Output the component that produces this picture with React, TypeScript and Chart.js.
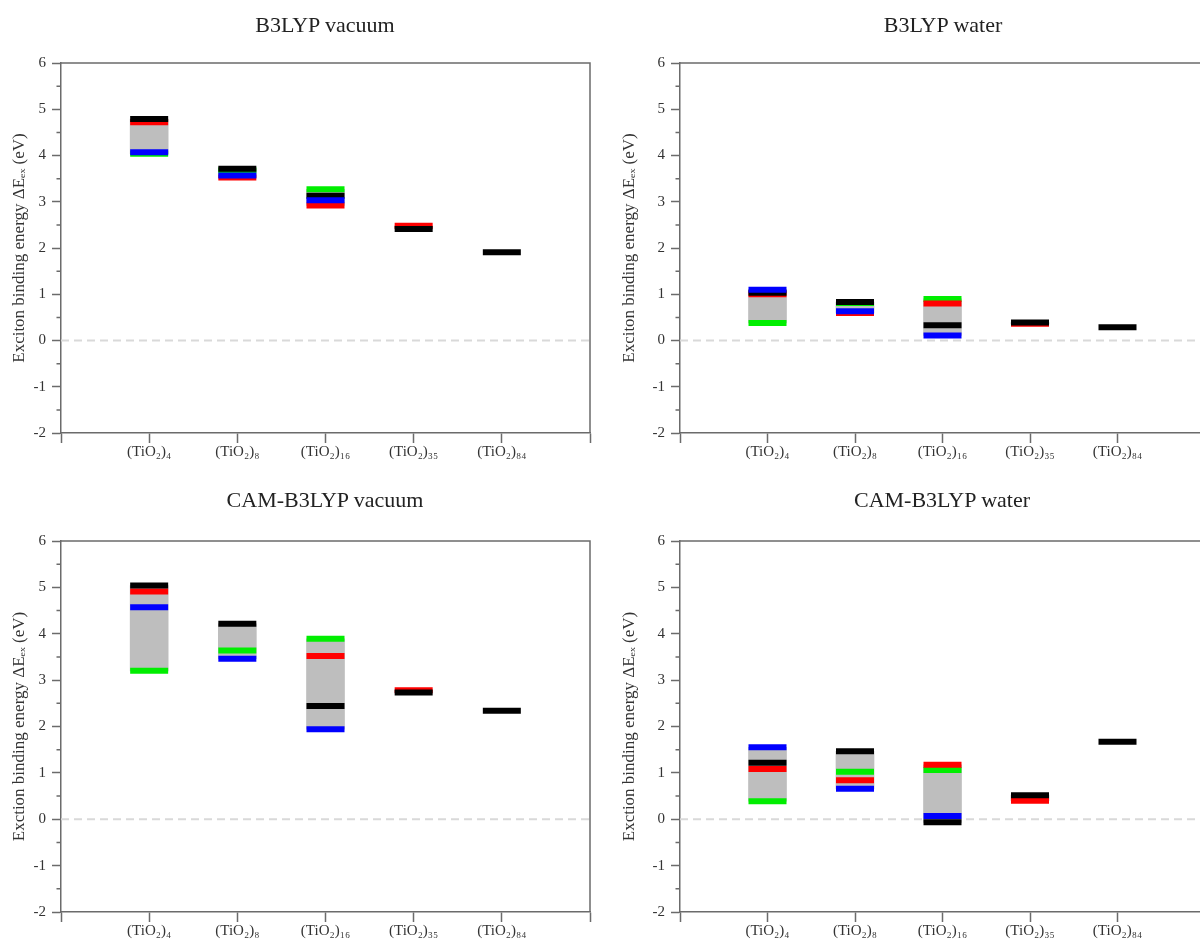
import React, { useEffect, useRef } from "react";
import { Chart, registerables } from "chart.js";

Chart.register(...registerables);

// Cluster sizes along the x axis
const clusterLabels = ["(TiO₂)₄", "(TiO₂)₈", "(TiO₂)₁₆", "(TiO₂)₃₅", "(TiO₂)₈₄"];
const clusterX = [1, 2, 3, 4, 5];

// B3LYP, vacuum (eV)
const b3lypVacuumBlack = [4.79, 3.715, 3.13, 2.41, 1.91];
const b3lypVacuumRed = [4.72, 3.525, 2.92, 2.48, null];
const b3lypVacuumGreen = [4.04, 3.68, 3.27, null, null];
const b3lypVacuumBlue = [4.07, 3.57, 3.03, null, null];

// B3LYP, water (eV)
const b3lypWaterBlack = [1.03, 0.83, 0.33, 0.39, 0.285];
const b3lypWaterRed = [1.0, 0.595, 0.8, 0.36, null];
const b3lypWaterGreen = [0.38, 0.81, 0.9, null, null];
const b3lypWaterBlue = [1.1, 0.63, 0.11, null, null];

// CAM-B3LYP, vacuum (eV)
const camVacuumBlack = [5.04, 4.215, 2.44, 2.735, 2.34];
const camVacuumRed = [4.91, null, 3.52, 2.78, null];
const camVacuumGreen = [3.2, 3.64, 3.89, null, null];
const camVacuumBlue = [4.57, 3.46, 1.94, null, null];

// CAM-B3LYP, water (eV)
const camWaterBlack = [1.22, 1.465, -0.067, 0.52, 1.67];
const camWaterRed = [1.085, 0.84, 1.175, 0.4, null];
const camWaterGreen = [0.39, 1.025, 1.06, null, null];
const camWaterBlue = [1.55, 0.655, 0.07, null, null];

const axisColor = "#6b6b6b";
const textColor = "#333333";
const serif = "'Liberation Serif', 'DejaVu Serif', serif";

type Series = (number | null)[];

type PanelProps = {
  title: string;
  yTitle: string;
  black: Series;
  red: Series;
  green: Series;
  blue: Series;
  left: number;
  top: number;
  width: number;
  height: number;
  axisWidth: number;
  axisHeight: number;
  padTop: number;
  yTitlePad: number;
  titleCenterX: number;
  titleCenterY: number;
};

// Dashed zero reference, outer frame and half-unit minor ticks on the y axis
const framePlugin = {
  id: "frame",
  beforeDatasetsDraw(chart: any) {
    const { ctx, chartArea, scales } = chart;
    const y0 = scales.y.getPixelForValue(0);
    ctx.save();
    ctx.strokeStyle = "#d9d9d9";
    ctx.lineWidth = 2;
    ctx.setLineDash([8, 5]);
    ctx.beginPath();
    ctx.moveTo(chartArea.left, y0);
    ctx.lineTo(chartArea.right, y0);
    ctx.stroke();
    ctx.restore();
  },
  afterDraw(chart: any) {
    const { ctx, chartArea, scales } = chart;
    ctx.save();
    ctx.strokeStyle = axisColor;
    ctx.lineWidth = 1.5;
    ctx.beginPath();
    ctx.moveTo(chartArea.left, chartArea.top);
    ctx.lineTo(chartArea.right, chartArea.top);
    ctx.lineTo(chartArea.right, chartArea.bottom);
    for (let v = -1.5; v < 6; v += 1) {
      const y = scales.y.getPixelForValue(v);
      ctx.moveTo(chartArea.left - 4.5, y);
      ctx.lineTo(chartArea.left, y);
    }
    ctx.stroke();
    ctx.restore();
  },
};

function Panel(p: PanelProps) {
  const ref = useRef<HTMLCanvasElement>(null);

  useEffect(() => {
    const canvas = ref.current;
    if (!canvas) return;

    // First dataset is painted last, so it sits on top
    const marks = [
      { label: "blue", values: p.blue, color: "#0000ff" },
      { label: "black", values: p.black, color: "#000000" },
      { label: "red", values: p.red, color: "#ff0000" },
      { label: "green", values: p.green, color: "#00ee00" },
    ];

    const markSets = marks.map((m) => ({
      type: "scatter",
      label: m.label,
      data: m.values
        .map((v, i) => (v == null ? null : { x: clusterX[i], y: v }))
        .filter((d) => d !== null),
      showLine: false,
      pointStyle: "line",
      pointRadius: 19,
      pointHoverRadius: 19,
      pointBorderWidth: 6,
      pointHoverBorderWidth: 6,
      pointBorderColor: m.color,
      pointBackgroundColor: m.color,
      borderColor: m.color,
    }));

    // Grey span from the lowest to the highest value of each cluster
    const spans: { x: number; y: [number, number] }[] = [];
    clusterX.forEach((x, i) => {
      const vals = [p.black[i], p.red[i], p.green[i], p.blue[i]].filter(
        (v) => v != null
      ) as number[];
      if (vals.length > 1) spans.push({ x, y: [Math.min(...vals), Math.max(...vals)] });
    });

    const chart = new Chart(canvas, {
      type: "scatter",
      data: {
        datasets: [
          ...markSets,
          {
            type: "bar",
            label: "span",
            data: spans,
            backgroundColor: "#bebebe",
            borderWidth: 0,
            barThickness: 38,
          },
        ] as any,
      },
      options: {
        animation: false,
        responsive: false,
        maintainAspectRatio: false,
        events: [],
        layout: {
          autoPadding: false,
          padding: { top: p.padTop, right: 10, left: 0, bottom: 0 },
        },
        plugins: {
          legend: { display: false },
          tooltip: { enabled: false },
          title: { display: false },
        },
        scales: {
          x: {
            type: "linear",
            min: 0,
            max: 6,
            offset: false,
            afterFit: (s: any) => {
              s.height = p.axisHeight;
              s.paddingLeft = 0;
              s.paddingRight = 0;
            },
            ticks: {
              stepSize: 1,
              autoSkip: false,
              maxRotation: 0,
              padding: 0,
              color: textColor,
              font: { family: serif, size: 15 },
              callback: (v: any) => {
                const i = clusterX.indexOf(Number(v));
                return i >= 0 ? clusterLabels[i] : "";
              },
            },
            grid: {
              drawOnChartArea: false,
              drawTicks: true,
              tickLength: 10,
              tickColor: axisColor,
              tickWidth: 1.5,
              offset: false,
            },
            border: { display: true, color: axisColor, width: 1.5 },
          },
          y: {
            type: "linear",
            min: -2,
            max: 6,
            afterFit: (s: any) => {
              s.width = p.axisWidth;
              s.paddingTop = 0;
              s.paddingBottom = 0;
            },
            ticks: {
              stepSize: 1,
              padding: 6,
              color: textColor,
              font: { family: serif, size: 15 },
            },
            grid: {
              drawOnChartArea: false,
              drawTicks: true,
              tickLength: 9,
              tickColor: axisColor,
              tickWidth: 1.5,
            },
            border: { display: true, color: axisColor, width: 1.5 },
            title: {
              display: true,
              text: p.yTitle,
              color: textColor,
              font: { family: serif, size: 17 },
              padding: { top: p.yTitlePad, bottom: 0 },
            },
          },
        },
      },
      plugins: [framePlugin],
    } as any);

    return () => chart.destroy();
  }, []);

  return (
    <>
      <canvas
        ref={ref}
        width={p.width}
        height={p.height}
        style={{
          position: "absolute",
          left: p.left,
          top: p.top,
          width: p.width,
          height: p.height,
        }}
      />
      <div
        style={{
          position: "absolute",
          left: p.titleCenterX - 200,
          top: p.titleCenterY - 13,
          width: 400,
          textAlign: "center",
          font: `22px/26px ${serif}`,
          color: "#222",
          whiteSpace: "nowrap",
        }}
      >
        {p.title}
      </div>
    </>
  );
}

const yTitleTop = "Exciton binding energy ΔEₑₓ (eV)";
const yTitleBottom = "Exction binding energy ΔEₑₓ (eV)";

export default function App() {
  return (
    <div
      style={{
        position: "absolute",
        left: 0,
        top: 0,
        width: 1200,
        height: 951,
        overflow: "hidden",
        background: "#ffffff",
      }}
    >
      <Panel
        title="B3LYP vacuum"
        yTitle={yTitleTop}
        black={b3lypVacuumBlack}
        red={b3lypVacuumRed}
        green={b3lypVacuumGreen}
        blue={b3lypVacuumBlue}
        left={0}
        top={0}
        width={600}
        height={475}
        axisWidth={61}
        axisHeight={42}
        padTop={63}
        yTitlePad={9}
        titleCenterX={325}
        titleCenterY={25}
      />
      <Panel
        title="B3LYP water"
        yTitle={yTitleTop}
        black={b3lypWaterBlack}
        red={b3lypWaterRed}
        green={b3lypWaterGreen}
        blue={b3lypWaterBlue}
        left={600}
        top={0}
        width={615}
        height={475}
        axisWidth={80}
        axisHeight={42}
        padTop={63}
        yTitlePad={19}
        titleCenterX={943}
        titleCenterY={25}
      />
      <Panel
        title="CAM-B3LYP vacuum"
        yTitle={yTitleBottom}
        black={camVacuumBlack}
        red={camVacuumRed}
        green={camVacuumGreen}
        blue={camVacuumBlue}
        left={0}
        top={475}
        width={600}
        height={476}
        axisWidth={61}
        axisHeight={39}
        padTop={66}
        yTitlePad={9}
        titleCenterX={325}
        titleCenterY={500}
      />
      <Panel
        title="CAM-B3LYP water"
        yTitle={yTitleBottom}
        black={camWaterBlack}
        red={camWaterRed}
        green={camWaterGreen}
        blue={camWaterBlue}
        left={600}
        top={475}
        width={615}
        height={476}
        axisWidth={80}
        axisHeight={39}
        padTop={66}
        yTitlePad={19}
        titleCenterX={942}
        titleCenterY={500}
      />
    </div>
  );
}
